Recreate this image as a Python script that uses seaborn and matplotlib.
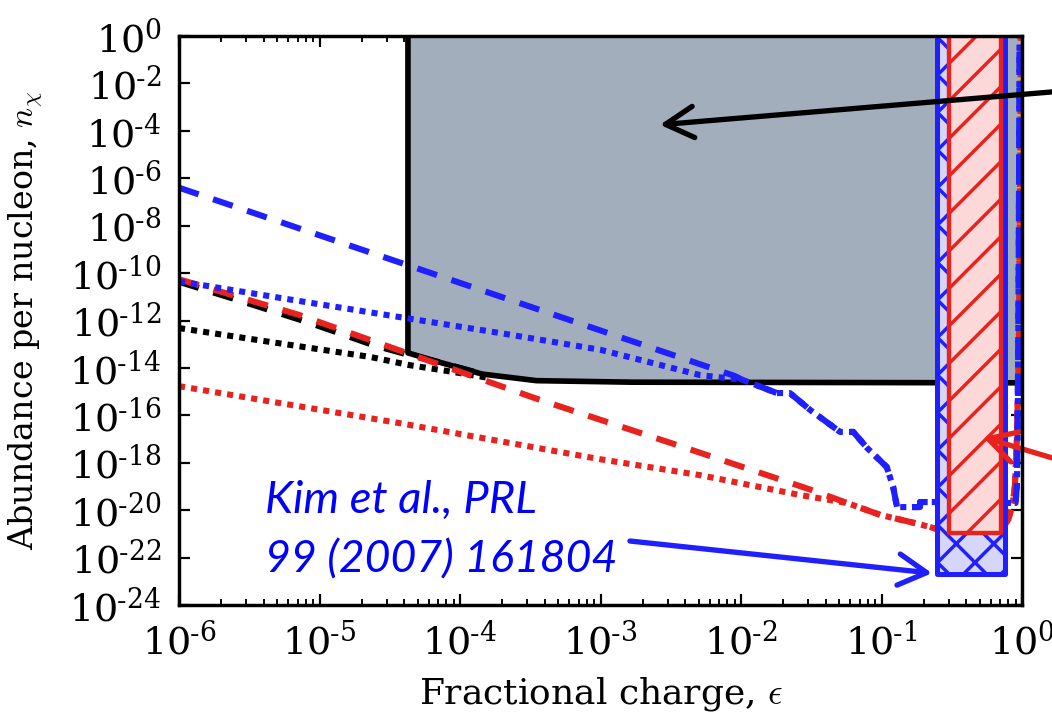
import matplotlib
matplotlib.use('Agg')
import matplotlib.pyplot as plt
import seaborn as sns
from matplotlib.ticker import FixedLocator, FixedFormatter, LogLocator, NullFormatter

# ---- data (fractional charge eps, abundance n) ----
# excluded (grey) region: vertical edge then lower boundary
excl_eps = [4.26e-5, 7.5e-5, 1.44e-4, 3.5e-4, 1.7e-3, 1.0]
excl_n = [4.3e-14, 1.6e-14, 5.5e-15, 2.9e-15, 2.5e-15, 2.35e-15]

black_dash_eps = [1e-6, 3.05e-6, 8.55e-6, 2.4e-5, 4.26e-5]
black_dash_n = [4.3e-11, 5.5e-12, 7.9e-13, 9.3e-14, 3.6e-14]
black_dot_eps = [1e-6, 4.4e-6, 2.3e-5, 4.4e-5, 8.9e-5, 1.6e-4]
black_dot_n = [4.8e-13, 1.26e-13, 2.9e-14, 1.3e-14, 6.8e-15, 3.8e-15]

# red: dashed and dotted branches, then a shared tail
red_dash_eps = [1e-6, 7.2e-6, 3.7e-5, 3.7e-4, 3.5e-3, 1.03e-2, 3.2e-2]
red_dash_n = [5.5e-11, 1.7e-12, 5.5e-14, 4.5e-16, 5.6e-18, 6.6e-19, 7e-20]
red_dot_eps = [1e-6, 3.7e-5, 1e-3, 5.1e-3, 2.6e-2]
red_dot_n = [1.7e-15, 4.7e-17, 1.4e-18, 3e-19, 4.4e-20]
red_tail_eps = [5.7e-2, 9.8e-2, 0.18, 0.24, 0.3, 0.70, 0.80, 0.86, 0.89, 0.92, 0.95, 0.97, 0.98]
red_tail_n = [2e-20, 6.3e-21, 2.7e-21, 1.7e-21, 1.4e-21, 1.4e-21, 4e-21, 2e-20, 1e-19,
              1e-17, 1e-13, 1e-6, 1.0]

# blue: dashed and dotted branches, then a shared stepped tail
blue_dash_eps = [1e-6, 9e-3]
blue_dash_n = [4e-7, 4.6e-15]
blue_dot_eps = [1e-6, 6.4e-6, 3.7e-5, 1.9e-4, 1e-3, 5.1e-3]
blue_dot_n = [4.5e-11, 7.4e-12, 1.4e-12, 3e-13, 5.8e-14, 5e-15]
blue_tail_eps = [1.03e-2, 1.8e-2, 2.23e-2, 3.1e-2, 5.07e-2, 6.3e-2, 7.9e-2, 0.109, 0.121,
                 0.129, 0.188, 0.188, 0.245, 0.9, 0.92, 0.93, 0.94, 0.95, 0.96]
blue_tail_n = [3.1e-15, 8.7e-16, 8.7e-16, 1.7e-16, 2e-17, 2e-17, 4.2e-18, 6.6e-19, 9.5e-20,
               1.35e-20, 1.35e-20, 2.2e-20, 2.2e-20, 2e-20, 1e-19, 1e-17, 1e-13, 1e-8, 1.0]

# bands (eps range and lower abundance limit)
blue_band_eps = [0.25, 0.76]
blue_band_low = 2e-23
red_band_eps = [0.30, 0.71]
red_band_low = 1.05e-21

x_tick_exps = [-6, -5, -4, -3, -2, -1, 0]
y_tick_exps = [0, -2, -4, -6, -8, -10, -12, -14, -16, -18, -20, -22, -24]

GREY = '#a3aebc'
RED = '#e8221f'
BLUE = '#1f1fff'

sns.set_theme(style='ticks')
plt.rcParams['font.family'] = ['DejaVu Serif']
plt.rcParams['mathtext.fontset'] = 'cm'
plt.rcParams['hatch.linewidth'] = 1.1

DPI = 225
fig = plt.figure(figsize=(1052 / DPI, 714 / DPI), dpi=DPI)
ax = fig.add_axes([179 / 1052, 109 / 714, 843 / 1052, 569 / 714])
ax.set_xscale('log')
ax.set_yscale('log')

# grey excluded region + its black edge
ax.fill_between(excl_eps, excl_n, 1.0, color=GREY, lw=0, zorder=1)
sns.lineplot(x=[excl_eps[0]] + excl_eps, y=[1.0] + excl_n, sort=False, estimator=None,
             color='black', lw=1.8, ax=ax, zorder=2)

dash = (0, (3.4, 2.5))
dot = (0, (1, 1))


def curve(xs, ys, color, ls, z):
    sns.lineplot(x=xs, y=ys, sort=False, estimator=None, color=color, linestyle=ls,
                 lw=1.95, ax=ax, zorder=z)


curve(black_dash_eps + excl_eps[1:3], black_dash_n + excl_n[1:3], 'black', dash, 2.1)
curve(black_dot_eps, black_dot_n, 'black', dot, 2.1)
curve(red_dash_eps + red_tail_eps, red_dash_n + red_tail_n, RED, dash, 3)
curve(red_dot_eps + red_tail_eps, red_dot_n + red_tail_n, RED, dot, 3)
curve(blue_dash_eps + blue_tail_eps, blue_dash_n + blue_tail_n, BLUE, dash, 3)
curve(blue_dot_eps + blue_tail_eps, blue_dot_n + blue_tail_n, BLUE, dot, 3)

# hatched bands
ax.fill_between(blue_band_eps, blue_band_low, 3.0, facecolor='#d6d6fb', edgecolor=BLUE,
                hatch='xx', lw=1.6, zorder=4)
ax.fill_between(red_band_eps, red_band_low, 3.0, facecolor='#fcd8d8', edgecolor=RED,
                hatch='//', lw=1.4, zorder=5)

# annotations
arrow = '->,head_length=0.45,head_width=0.25'
ax.annotate('', xy=(2.65e-3, 1.8e-4), xytext=(1.65, 4.4e-3), annotation_clip=False,
            arrowprops=dict(arrowstyle=arrow, color='black', lw=1.7, mutation_scale=20,
                            shrinkA=0, shrinkB=0), zorder=6)
ax.annotate('', xy=(0.527, 1.2e-17), xytext=(1.64, 1.6e-18), annotation_clip=False,
            arrowprops=dict(arrowstyle=arrow, color=RED, lw=1.7, mutation_scale=20,
                            shrinkA=0, shrinkB=0), zorder=6)
ax.annotate('', xy=(0.229, 2.2e-23), xytext=(1.62e-3, 5e-22), annotation_clip=False,
            arrowprops=dict(arrowstyle=arrow, color=BLUE, lw=1.7, mutation_scale=20,
                            shrinkA=0, shrinkB=0), zorder=6)
ax.text(4.1e-6, 2.7e-20, 'Kim et al., PRL', color='#0000ff', fontsize=14.5,
        family='Lato', style='italic', ha='left', va='center')
ax.text(4.1e-6, 8e-23, '99 (2007) 161804', color='#0000ff', fontsize=14.3,
        family='Lato', style='italic', ha='left', va='center')

ax.set_xlim(1e-6, 1.0)
ax.set_ylim(1e-24, 1.0)


def tick_text(e):
    s = str(e).replace('-', r'\text{-}')
    return r'$\mathdefault{10^{%s}}$' % s


ax.xaxis.set_major_locator(FixedLocator([10.0 ** e for e in x_tick_exps]))
ax.xaxis.set_major_formatter(FixedFormatter([tick_text(e) for e in x_tick_exps]))
ax.xaxis.set_minor_locator(LogLocator(base=10, subs=range(2, 10), numticks=20))
ax.xaxis.set_minor_formatter(NullFormatter())
ax.yaxis.set_major_locator(FixedLocator([10.0 ** e for e in y_tick_exps]))
ax.yaxis.set_major_formatter(FixedFormatter([tick_text(e) for e in y_tick_exps]))
ax.yaxis.set_minor_locator(FixedLocator([]))

ax.tick_params(which='both', direction='in', top=True, right=True, colors='black')
ax.tick_params(which='major', length=3.6, width=0.7, labelsize=12.2, pad=5.5)
ax.tick_params(which='minor', length=2.0, width=0.6)
for sp in ax.spines.values():
    sp.set_linewidth(1.1)
    sp.set_color('black')
    sp.set_zorder(7)

ax.set_xlabel(r'Fractional charge, $\epsilon$', fontsize=11.5, labelpad=4, color='black')
ax.set_ylabel(r'Abundance per nucleon, $n_\chi$', fontsize=10.7, labelpad=8, color='black')

fig.savefig('out.png', dpi=DPI, facecolor='white')
